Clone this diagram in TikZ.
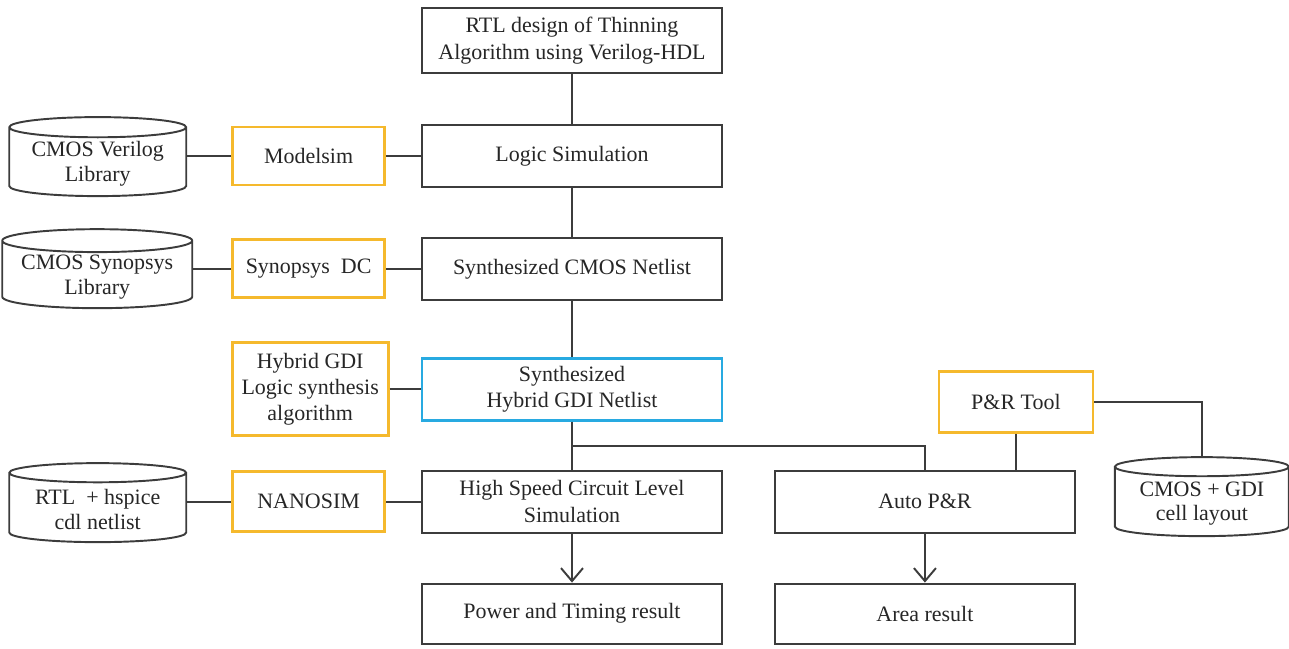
\documentclass[tikz,border=0pt]{standalone}
\usepackage{fontspec}
\setmainfont{Liberation Serif}
\usetikzlibrary{shapes.geometric,arrows.meta,positioning}
\usepackage{xcolor}
\definecolor{toolorange}{RGB}{245,185,45}
\definecolor{gdiblue}{RGB}{40,170,225}
\definecolor{linegray}{RGB}{60,60,60}

\begin{document}
\begin{tikzpicture}[
    node distance=0.98cm,
    font=\fontsize{12.5}{15}\selectfont,
    flowbox/.style={rectangle, minimum width=6cm, minimum height=1.24cm, align=center, draw=linegray, line width=1.1pt, text=black!85},
    toolbox/.style={rectangle, minimum width=3.04cm, minimum height=1.16cm, align=center, draw=toolorange, line width=1.6pt, text=black!85},
    library/.style={cylinder, shape border rotate=90, aspect=0.14, inner ysep=0pt, minimum width=3.54cm, minimum height=1.58cm, align=center, draw=linegray, line width=1.1pt, text=black!85, font=\fontsize{12.5}{14}\selectfont},
    link/.style={draw=linegray, line width=1.1pt},
    arrow/.style={link, -{Straight Barb[length=2.6mm,width=4.4mm]}}
]
\useasboundingbox (0,0) rectangle (25.78,-12.96);

% main flow
\node (rtl) [flowbox, minimum height=1.3cm] at (11.44,-0.81) {RTL design of Thinning\\Algorithm using Verilog-HDL};
\node (logic) [flowbox, below=1.0cm of rtl] {Logic Simulation};
\node (cmosnet) [flowbox, below=of logic] {Synthesized CMOS Netlist};
\node (gdinet) [flowbox, draw=gdiblue, line width=1.6pt, below=1.12cm of cmosnet] {Synthesized\\Hybrid GDI Netlist};
\node (hspeed) [flowbox, below=0.96cm of gdinet] {High Speed Circuit Level\\Simulation};
\node (power) [flowbox, minimum height=1.2cm, below=of hspeed] {Power and Timing result};

% tools and libraries on the left
\node (modelsim) [toolbox, left=0.7cm of logic] {Modelsim};
\node (verilib) [library, left=0.88cm of modelsim, yshift=-0.16cm] {CMOS Verilog\\Library};
\node (dc) [toolbox, left=0.7cm of cmosnet] {Synopsys\enspace DC};
\node (synlib) [library, minimum width=3.8cm, left=0.76cm of dc, yshift=-0.16cm] {CMOS Synopsys\\Library};
\node (gdialgo) [toolbox, minimum width=3.12cm, minimum height=1.86cm, left=0.62cm of gdinet] {Hybrid GDI\\Logic synthesis\\algorithm};
\node (nanosim) [toolbox, minimum height=1.2cm, left=0.7cm of hspeed] {NANOSIM};
\node (spicelib) [library, left=0.88cm of nanosim, yshift=-0.16cm] {RTL\enspace+ hspice\\cdl netlist};

% layout branch
\node (autopr) [flowbox, right=1.02cm of hspeed] {Auto P\&R};
\node (area) [flowbox, minimum height=1.2cm, right=1.02cm of power] {Area result};
\node (prtool) [toolbox, minimum width=3.08cm, minimum height=1.22cm, above=0.72cm of autopr, xshift=1.82cm] {P\&R Tool};
\node (celllib) [library, minimum width=3.48cm, right=0.76cm of autopr, yshift=-0.04cm] {CMOS + GDI\\cell layout};

% Lines
\draw[link] (rtl) -- (logic);
\draw[link] (logic) -- (cmosnet);
\draw[link] (cmosnet) -- (gdinet);
\draw[link] (gdinet) -- (hspeed);
\draw[link] (gdinet.south) -- ++(0,-0.48) -| (autopr.north);
\draw[arrow] (hspeed) -- (power);
\draw[arrow] (autopr) -- (area);
\draw[link] (modelsim.west) -- (modelsim.west -| verilib.east);
\draw[link] (modelsim) -- (logic);
\draw[link] (dc.west) -- (dc.west -| synlib.east);
\draw[link] (dc) -- (cmosnet);
\draw[link] (gdialgo) -- (gdinet);
\draw[link] (nanosim.west) -- (nanosim.west -| spicelib.east);
\draw[link] (nanosim) -- (hspeed);
\draw[link] (prtool) -- (prtool |- autopr.north);
\draw[link] (prtool.east) -| (celllib.north);

\end{tikzpicture}
\end{document}
